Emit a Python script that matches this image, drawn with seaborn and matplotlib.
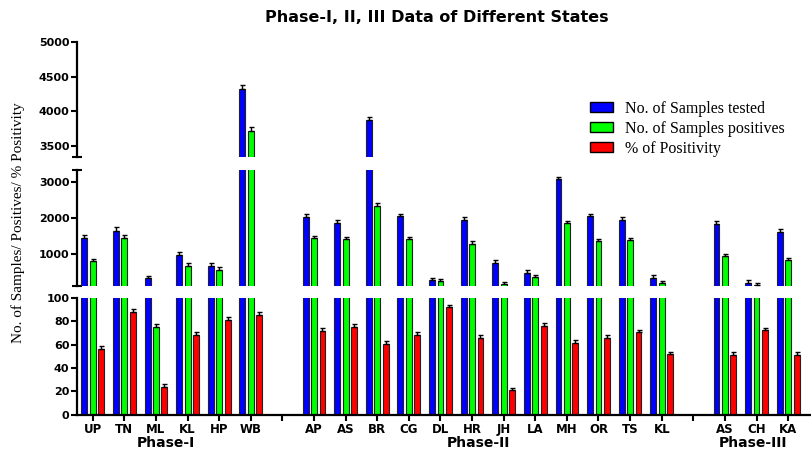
import numpy as np
import pandas as pd
import matplotlib
matplotlib.use("Agg")
import matplotlib.pyplot as plt
import seaborn as sns
from matplotlib.patches import Patch

nan = np.nan
states = ["UP", "TN", "ML", "KL", "HP", "WB", "",
          "AP", "AS", "BR", "CG", "DL", "HR", "JH", "LA", "MH", "OR", "TS", "KL", "",
          "AS", "CH", "KA"]
tested = [1450, 1640, 315, 963, 662, 4327, nan,
          2034, 1865, 3875, 2051, 259, 1958, 746, 465, 3085, 2051, 1958, 332, nan,
          1837, 175, 1620]
positives = [800, 1440, 75, 662, 550, 3720, nan,
             1442, 1403, 2332, 1403, 231, 1282, 155, 352, 1865, 1358, 1386, 175, nan,
             935, 125, 823]
positivity = [56, 87.7, 24, 68.5, 81, 85.4, nan,
              71.7, 75.2, 60.3, 68, 92.3, 65.7, 21.2, 76.3, 61.2, 65.7, 70.9, 51.8, nan,
              50.9, 72.3, 50.9]
tested_err = [90, 100, 70, 80, 90, 50, nan,
              90, 80, 50, 80, 70, 80, 90, 80, 70, 80, 80, 90, nan,
              80, 80, 80]
positives_err = [70, 80, 3, 70, 70, 50, nan,
                 70, 70, 80, 70, 60, 70, 60, 70, 70, 70, 70, 60, nan,
                 70, 60, 70]
positivity_err = [2.5, 2.5, 2.5, 2.5, 2.5, 2.5, nan,
                  2.5, 2.5, 2.5, 2.5, 2.0, 2.5, 2.0, 2.5, 2.5, 2.5, 2.0, 2.0, nan,
                  2.5, 2.0, 2.5]
phases = ["Phase-I", "Phase-II", "Phase-III"]
phase_centers = [2.3, 12.2, 20.9]
series_names = ["No. of Samples tested", "No. of Samples positives", "% of Positivity"]
colors = ["#0000FF", "#00FF00", "#FF0000"]

keys = [f"k{i:02d}" for i in range(len(states))]
rows = []
for name, vals in zip(series_names, [tested, positives, positivity]):
    for k, v in zip(keys, vals):
        if not np.isnan(v):
            rows.append({"key": k, "series": name, "value": v})
df = pd.DataFrame(rows)

sns.set_style("ticks")
plt.rcParams["font.family"] = ["DejaVu Sans"]
plt.rcParams["font.weight"] = "bold"
for k in ("text.color", "axes.labelcolor", "xtick.color", "ytick.color", "axes.edgecolor"):
    plt.rcParams[k] = "black"

fig = plt.figure(figsize=(8.12, 4.54), dpi=100)
L, W = 0.0948, 0.905
ax_top = fig.add_axes([L, 0.654, W, 0.2535])
ax_mid = fig.add_axes([L, 0.370, W, 0.2556])
ax_bot = fig.add_axes([L, 0.0866, W, 0.257])

offsets = [-0.2667, 0.0, 0.2667]
errs = [tested_err, positives_err, positivity_err]
vals_all = [tested, positives, positivity]
limits = {0: (3340, 5000), 1: (100, 3350), 2: (0, 100)}

for idx, ax in enumerate((ax_top, ax_mid, ax_bot)):
    lo, hi = limits[idx]
    sns.barplot(data=df, x="key", y="value", hue="series", order=keys,
                hue_order=series_names, palette=colors, width=0.8, gap=0.3,
                edgecolor="#222222", linewidth=0.8, errorbar=None,
                legend=False, ax=ax, saturation=1)
    # hide bars that lie completely below this segment
    for p in ax.patches:
        if p.get_y() + p.get_height() <= lo:
            p.set_visible(False)
    for off, v, e in zip(offsets, vals_all, errs):
        v = np.array(v, dtype=float)
        e = np.array(e, dtype=float)
        keep = v > lo
        ax.errorbar((np.arange(len(keys)) + off)[keep], v[keep],
                    yerr=[np.zeros(keep.sum()), e[keep]],
                    fmt="none", ecolor="black", elinewidth=1.0, capsize=1.8,
                    capthick=1.0, zorder=5)
    ax.set_xlim(-0.5, 22.75)
    ax.set_ylim(lo, hi)
    ax.set_xlabel("")
    ax.set_ylabel("")
    for s in ("top", "right"):
        ax.spines[s].set_visible(False)
    ax.spines["left"].set_linewidth(1.6)
    ax.tick_params(axis="y", direction="out", length=4, width=1.5, labelsize=8, pad=1.5)
    ax.tick_params(axis="y", which="minor", direction="inout", length=7, width=1.5)

ax_top.set_yticks([3500, 4000, 4500, 5000])
ax_top.set_yticks([3340], minor=True)
ax_mid.set_yticks([1000, 2000, 3000])
ax_mid.set_yticks([100, 3350], minor=True)
ax_bot.set_yticks([0, 20, 40, 60, 80, 100])

for ax in (ax_top, ax_mid, ax_bot):
    for lab in ax.get_yticklabels():
        lab.set_fontweight("bold")

for ax in (ax_top, ax_mid):
    ax.spines["bottom"].set_visible(False)
    ax.tick_params(axis="x", bottom=False, labelbottom=False)
    ax.set_facecolor("none")

ax_bot.spines["bottom"].set_linewidth(1.6)
ax_bot.set_xticks(range(len(keys)))
ax_bot.set_xticklabels(states, fontweight="bold", fontsize=8.5)
ax_bot.tick_params(axis="x", direction="out", length=4, width=1.5, pad=2)

for name, cx in zip(phases, phase_centers):
    ax_bot.text(cx, -0.243, name, transform=ax_bot.get_xaxis_transform(),
                ha="center", va="center", fontsize=10, fontweight="bold")

fig.text(0.538, 0.962, "Phase-I, II, III Data of Different States",
         ha="center", va="center", fontsize=11.5, fontweight="bold")
fig.text(0.022, 0.51, "No. of Samples/ Positives/ % Positivity", rotation=90,
         ha="center", va="center", fontsize=11, family="Liberation Serif",
         fontweight="normal")

handles = [Patch(facecolor=c, edgecolor="black", linewidth=1.0) for c in colors]
fig.legend(handles, series_names, loc="upper left", bbox_to_anchor=(0.719, 0.792),
           frameon=False, prop={"family": "Liberation Serif", "size": 11.5, "weight": "normal"},
           handlelength=1.45, handleheight=0.6, labelspacing=0.25, handletextpad=0.75,
           borderaxespad=0)

fig.savefig("out.png", dpi=100)
